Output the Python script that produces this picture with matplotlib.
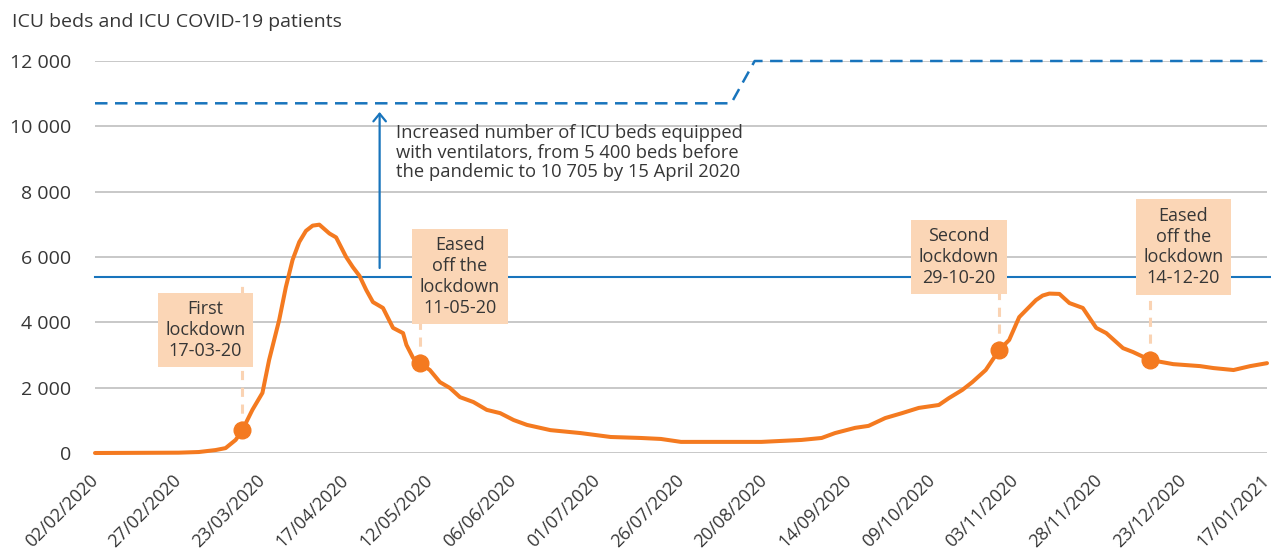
import matplotlib
matplotlib.use("Agg")
import matplotlib.pyplot as plt
import pandas as pd

# ---------------- data ----------------
dates = ["2020-02-02", "2020-02-27", "2020-03-04", "2020-03-09", "2020-03-12", "2020-03-15",
         "2020-03-17", "2020-03-20", "2020-03-23", "2020-03-25", "2020-03-28", "2020-03-30",
         "2020-04-01", "2020-04-03", "2020-04-05", "2020-04-07", "2020-04-09", "2020-04-10",
         "2020-04-12", "2020-04-14", "2020-04-17", "2020-04-19", "2020-04-21", "2020-04-23",
         "2020-04-25", "2020-04-28", "2020-05-01", "2020-05-04", "2020-05-05", "2020-05-07",
         "2020-05-09", "2020-05-12", "2020-05-15", "2020-05-18", "2020-05-21", "2020-05-25",
         "2020-05-29", "2020-06-02", "2020-06-06", "2020-06-10", "2020-06-17", "2020-06-26",
         "2020-07-05", "2020-07-14", "2020-07-20", "2020-07-26", "2020-08-01", "2020-08-10",
         "2020-08-19", "2020-08-25", "2020-08-31", "2020-09-06", "2020-09-10", "2020-09-16",
         "2020-09-20", "2020-09-25", "2020-09-30", "2020-10-05", "2020-10-11", "2020-10-14",
         "2020-10-18", "2020-10-21", "2020-10-25", "2020-10-29", "2020-11-01", "2020-11-04",
         "2020-11-09", "2020-11-11", "2020-11-13", "2020-11-16", "2020-11-19", "2020-11-23",
         "2020-11-27", "2020-11-30", "2020-12-05", "2020-12-08", "2020-12-13", "2020-12-20",
         "2020-12-28", "2021-01-01", "2021-01-07", "2021-01-12", "2021-01-17"]
icu_patients = [0, 10, 30, 90, 150, 400,
                700, 1320, 1840, 2850, 4070, 5080,
                5910, 6460, 6800, 6960, 6990, 6900,
                6720, 6600, 6000, 5690, 5420, 4990,
                4620, 4440, 3830, 3670, 3310, 2910,
                2750, 2540, 2170, 1990, 1710, 1560,
                1320, 1220, 1010, 860, 700, 610,
                490, 460, 430, 340, 340, 340,
                340, 370, 400, 460, 610, 770,
                830, 1070, 1220, 1380, 1470, 1680,
                1930, 2170, 2540, 3150, 3460, 4160,
                4680, 4820, 4880, 4870, 4590, 4440,
                3830, 3670, 3210, 3090, 2850, 2720,
                2660, 2600, 2540, 2660, 2750]

capacity_dates = ["2020-02-02", "2020-08-10", "2020-08-17", "2021-01-17"]
capacity_beds = [10705, 10705, 12000, 12000]
pre_pandemic_beds = 5400

event_dates = ["2020-03-17", "2020-05-09", "2020-10-29", "2020-12-13"]
event_values = [700, 2750, 3150, 2850]
event_labels = ["First\nlockdown\n17-03-20",
                "Eased\noff the\nlockdown\n11-05-20",
                "Second\nlockdown\n29-10-20",
                "Eased\noff the\nlockdown\n14-12-20"]
# box centres (date, value)
event_box_dates = ["2020-03-06", "2020-05-21", "2020-10-17", "2020-12-23"]
event_box_values = [3765, 5400, 6000, 6306]
event_line_tops = [5150, 5400, 6000, 6306]

arrow_date = "2020-04-27"
arrow_from, arrow_to = 5663, 10440
note_text = ("Increased number of ICU beds equipped\n"
             "with ventilators, from 5 400 beds before\n"
             "the pandemic to 10 705 by 15 April 2020")
title = "ICU beds and ICU COVID-19 patients"

yticks = [0, 2000, 4000, 6000, 8000, 10000, 12000]
xtick_start, xtick_step, xtick_count = "2020-02-02", 25, 15

# ---------------- style ----------------
plt.rcParams['font.family'] = ['Open Sans', 'DejaVu Sans']
ORANGE = "#F47A20"
BLUE = "#1874BC"
PEACH = "#FBD6B6"
PEACH_LINE = "#FAD3B3"
GRID = "#C4C4C4"
TXT = "#363636"

W, H = 1271, 558
fig = plt.figure(figsize=(W / 100, H / 100), dpi=100)
ax = fig.add_axes([95 / W, 1 - 453 / H, (1267 - 95) / W, (453 - 61) / H])

d = pd.to_datetime(dates)
cd = pd.to_datetime(capacity_dates)
ed = pd.to_datetime(event_dates)
bd = pd.to_datetime(event_box_dates)
x0 = pd.Timestamp(xtick_start)
xticks = [x0 + pd.Timedelta(days=xtick_step * i) for i in range(xtick_count)]

ax.set_xlim(xticks[0], xticks[-1])
ax.set_ylim(0, 12000)

for s in ax.spines.values():
    s.set_visible(False)
for v in yticks:
    ax.axhline(v, color=GRID, lw=1.3, zorder=0)

# pre-pandemic beds
ax.plot([xticks[0], xticks[-1] + pd.Timedelta(days=1.5)], [pre_pandemic_beds] * 2,
        color=BLUE, lw=1.5, zorder=2, clip_on=False)
# capacity dashed
ax.plot(cd, capacity_beds, color=BLUE, lw=1.8, dashes=(5, 3), zorder=2, clip_on=False)

# arrow
ax.annotate("", xy=(pd.Timestamp(arrow_date), arrow_to),
            xytext=(pd.Timestamp(arrow_date), arrow_from),
            arrowprops=dict(arrowstyle="->,head_length=0.55,head_width=0.45",
                            color=BLUE, lw=1.6, shrinkA=0, shrinkB=0), zorder=3)
ax.text(pd.Timestamp("2020-05-02"), 10080, note_text, fontsize=13.2, color=TXT,
        va="top", ha="left", linespacing=1.13)

# event dashed lines
for x, v, top in zip(ed, event_values, event_line_tops):
    ax.plot([x, x], [v, top], color=PEACH_LINE, lw=2.2, dashes=(3, 2.5), zorder=3)

# main curve
ax.plot(d, icu_patients, color=ORANGE, lw=2.9, zorder=4, clip_on=False,
        solid_joinstyle="round", solid_capstyle="round")
ax.plot(ed, event_values, "o", color=ORANGE, ms=12, zorder=5)

for x, v, lab in zip(bd, event_box_values, event_labels):
    ax.text(x, v, lab, ha="center", va="center", fontsize=13, color=TXT,
            linespacing=1.2, zorder=6,
            bbox=dict(boxstyle="square,pad=0.42", fc=PEACH, ec="none"))

ax.set_yticks(yticks)
ax.set_yticklabels([f"{v:,}".replace(",", " ") for v in yticks])
ax.set_xticks(xticks)
ax.set_xticklabels([t.strftime("%d/%m/%Y") for t in xticks], rotation=45,
                   ha="right", va="center", rotation_mode="anchor")
ax.tick_params(axis="y", length=0, pad=17, labelsize=14, labelcolor=TXT)
ax.tick_params(axis="x", length=0, pad=18, labelsize=12.9, labelcolor=TXT)

fig.text(12 / W, 1 - 22 / H, title, fontsize=14.0, color=TXT, ha="left", va="center")

fig.savefig("out.png", dpi=100)
